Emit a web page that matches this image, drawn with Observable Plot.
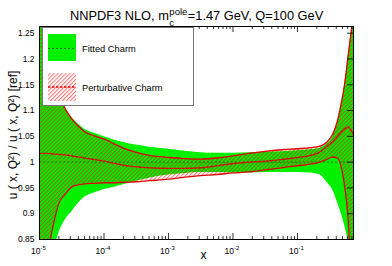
<!DOCTYPE html>
<html>
<head>
<meta charset="utf-8">
<script src="https://cdn.jsdelivr.net/npm/d3@7"></script>
<script src="https://cdn.jsdelivr.net/npm/@observablehq/plot@0.6"></script>
<style>
  html, body { margin: 0; padding: 0; background: #fff; }
  #chart { position: relative; width: 392px; height: 266px; }
</style>
</head>
<body>
<div id="chart"></div>
<script>
// ---- data ----
const logX = [-5.0, -4.9, -4.8, -4.7, -4.6, -4.5, -4.4, -4.3, -4.15, -4.0, -3.85, -3.7, -3.5, -3.3, -3.0, -2.75, -2.5, -2.25, -2.0, -1.75, -1.5, -1.25, -1.0, -0.8, -0.65, -0.55, -0.45, -0.38, -0.32, -0.27, -0.22, -0.18, -0.15, -0.124];
const fittedUpper = [1.45, 1.23, 1.18, 1.138, 1.106, 1.087, 1.074, 1.064, 1.056, 1.049, 1.043, 1.038, 1.033, 1.029, 1.025, 1.021, 1.018, 1.017, 1.017, 1.018, 1.019, 1.020, 1.022, 1.024, 1.027, 1.034, 1.050, 1.075, 1.110, 1.145, 1.195, 1.235, 1.265, 1.30];
const fittedLower = [0.60, 0.72, 0.81, 0.862, 0.888, 0.904, 0.920, 0.932, 0.940, 0.947, 0.951, 0.956, 0.963, 0.969, 0.975, 0.978, 0.980, 0.980, 0.979, 0.979, 0.980, 0.980, 0.980, 0.979, 0.975, 0.962, 0.945, 0.922, 0.900, 0.878, 0.850, 0.810, 0.770, 0.700];
const pertUpper = [1.32, 1.215, 1.170, 1.132, 1.103, 1.084, 1.070, 1.059, 1.051, 1.045, 1.036, 1.027, 1.019, 1.013, 1.009, 1.007, 1.006, 1.008, 1.012, 1.017, 1.021, 1.024, 1.026, 1.028, 1.031, 1.038, 1.055, 1.080, 1.115, 1.150, 1.200, 1.240, 1.270, 1.30];
const pertCentral = [1.017, 1.017, 1.016, 1.015, 1.014, 1.012, 1.010, 1.008, 1.005, 1.002, 0.998, 0.994, 0.991, 0.989, 0.988, 0.988, 0.989, 0.993, 0.997, 1.000, 1.002, 1.005, 1.009, 1.013, 1.020, 1.030, 1.040, 1.050, 1.058, 1.064, 1.068, 1.064, 1.058, 1.052];
const pertLower = [0.70, 0.80, 0.87, 0.920, 0.938, 0.952, 0.956, 0.958, 0.959, 0.960, 0.960, 0.961, 0.962, 0.964, 0.967, 0.971, 0.974, 0.976, 0.979, 0.981, 0.985, 0.989, 0.993, 0.996, 1.000, 1.005, 1.010, 1.008, 0.990, 0.955, 0.900, 0.820, 0.780, 0.720];
const refRatio = [1];

const xDecades = [1e-5, 1e-4, 1e-3, 1e-2, 1e-1];
const xDecadeExponents = ["-5", "-4", "-3", "-2", "-1"];
const xMinor = [2e-5,3e-5,4e-5,5e-5,6e-5,7e-5,8e-5,9e-5, 2e-4,3e-4,4e-4,5e-4,6e-4,7e-4,8e-4,9e-4, 2e-3,3e-3,4e-3,5e-3,6e-3,7e-3,8e-3,9e-3, 2e-2,3e-2,4e-2,5e-2,6e-2,7e-2,8e-2,9e-2, 0.2,0.3,0.4,0.5,0.6,0.7];
const yTicks = [0.85, 0.9, 0.95, 1.0, 1.05, 1.1, 1.15, 1.2, 1.25];
const yTickLabels = ["0.85", "0.9", "0.95", "1", "1.05", "1.1", "1.15", "1.2", "1.25"];

const titleMain = "NNPDF3 NLO, m";
const titleSup = "pole";
const titleSub = "c";
const titleRest = "=1.47 GeV, Q=100 GeV";
const yLabel = "u ( x, Q\u00B2) / u ( x, Q\u00B2) [ref]";
const xLabel = "x";
const legendLabels = ["Fitted Charm", "Perturbative Charm"];

const rows = logX.map((e, i) => ({
  x: Math.pow(10, e),
  gu: fittedUpper[i], gl: fittedLower[i],
  pu: pertUpper[i], pc: pertCentral[i], pl: pertLower[i]
}));

// ---- layout ----
const W = 392, H = 266;
const mL = 39, mR = 39, mT = 26, mB = 27;
const fW = W - mL - mR, fH = H - mT - mB;
const RED = "#e00000";
const GREEN = "#00f000";
const FONT = "Liberation Sans, Arial, Helvetica, sans-serif";

const hatchDefs = () => {
  const defs = d3.create("svg:defs");
  const p = defs.append("pattern")
    .attr("id", "hatch")
    .attr("patternUnits", "userSpaceOnUse")
    .attr("width", 2.8).attr("height", 2.8)
    .attr("patternTransform", "rotate(45)");
  p.append("line")
    .attr("x1", 0.6).attr("y1", -1).attr("x2", 0.6).attr("y2", 3.8)
    .attr("stroke", "#ff0000").attr("stroke-width", 0.55);
  return defs.node();
};

const chart = Plot.plot({
  width: W, height: H,
  marginLeft: mL, marginRight: mR, marginTop: mT, marginBottom: mB,
  style: { fontFamily: FONT, background: "#fff", color: "#000", overflow: "visible" },
  x: { type: "log", domain: [1e-5, 0.74], axis: null },
  y: { domain: [0.85, 1.263], axis: null },
  marks: [
    hatchDefs,
    Plot.areaY(rows, { x: "x", y1: "gl", y2: "gu", fill: GREEN, curve: "monotone-x", clip: true }),
    Plot.areaY(rows, { x: "x", y1: "pl", y2: "pu", fill: "url(#hatch)", curve: "monotone-x", clip: true }),
    Plot.ruleY(refRatio, { stroke: "#2c5a1c", strokeWidth: 0.8, strokeDasharray: "2,2" }),
    Plot.lineY(rows, { x: "x", y: "pu", stroke: RED, strokeWidth: 1.3, curve: "monotone-x", clip: true }),
    Plot.lineY(rows, { x: "x", y: "pl", stroke: RED, strokeWidth: 1.3, curve: "monotone-x", clip: true }),
    Plot.lineY(rows, { x: "x", y: "pc", stroke: RED, strokeWidth: 1.4, strokeDasharray: "2.5,1.5", curve: "monotone-x", clip: true }),
    // ticks: bottom & top (inside)
    Plot.ruleX(xDecades, { stroke: "#000", strokeWidth: 0.8, insetTop: fH - 6 }),
    Plot.ruleX(xMinor, { stroke: "#000", strokeWidth: 0.8, insetTop: fH - 3 }),
    Plot.ruleX(xDecades, { stroke: "#000", strokeWidth: 0.8, insetBottom: fH - 6 }),
    Plot.ruleX(xMinor, { stroke: "#000", strokeWidth: 0.8, insetBottom: fH - 3 }),
    // right ticks
    Plot.ruleY(yTicks, { stroke: "#000", strokeWidth: 0.8, insetLeft: fW - 6 }),
    Plot.frame({ stroke: "#000", strokeWidth: 1 }),
    // tick labels
    Plot.text(xDecades, { x: d => d, text: () => "10", frameAnchor: "bottom", textAnchor: "end", dx: 1, dy: 14, fontSize: 8.5, fill: "#000" }),
    Plot.text(xDecades, { x: d => d, text: (d, i) => xDecadeExponents[i], frameAnchor: "bottom", textAnchor: "start", dx: 1, dy: 10, fontSize: 6, fill: "#000" }),
    Plot.text(yTicks, { y: d => d, text: (d, i) => yTickLabels[i], frameAnchor: "left", textAnchor: "end", dx: -5, fontSize: 8.5, fill: "#000" }),
    // x axis title
    Plot.text([xLabel], { text: d => d, frameAnchor: "bottom", dx: 7, dy: 19, fontSize: 12, fill: "#000" })
  ]
});

document.getElementById("chart").appendChild(chart);

const svg = d3.select(chart);

// ---- y axis title ----
svg.append("text")
  .attr("transform", "translate(13,135) rotate(-90)")
  .attr("text-anchor", "middle")
  .attr("dy", "0.35em")
  .attr("font-family", FONT)
  .attr("font-size", 12)
  .attr("fill", "#000")
  .text(yLabel);

// ---- title with super/subscript ----
const tg = svg.append("g").attr("font-family", FONT).attr("fill", "#000").attr("text-anchor", "start");
const t1 = tg.append("text").attr("x", 70).attr("y", 20).attr("font-size", 12.8).text(titleMain);
const w1 = t1.node().getComputedTextLength();
const tSup = tg.append("text").attr("x", 70 + w1 + 0.5).attr("y", 15).attr("font-size", 9.5).text(titleSup);
tg.append("text").attr("x", 70 + w1 + 0.5).attr("y", 26).attr("font-size", 9.5).text(titleSub);
const wSup = tSup.node().getComputedTextLength();
tg.append("text").attr("x", 70 + w1 + 0.5 + wSup + 0.5).attr("y", 20).attr("font-size", 12.8).text(titleRest);

// ---- legend ----
const lg = svg.append("g").attr("font-family", FONT).attr("text-anchor", "start");
lg.append("rect").attr("x", mL + 3.5).attr("y", mT + 1.5).attr("width", 151).attr("height", 78)
  .attr("fill", "#fff").attr("stroke", "#777").attr("stroke-width", 1);
lg.append("rect").attr("x", 48).attr("y", 34).attr("width", 28).attr("height", 27).attr("fill", GREEN);
lg.append("line").attr("x1", 48).attr("x2", 76).attr("y1", 48.5).attr("y2", 48.5)
  .attr("stroke", "#2c5a1c").attr("stroke-width", 0.8).attr("stroke-dasharray", "2,2");
lg.append("rect").attr("x", 48).attr("y", 73).attr("width", 28).attr("height", 28).attr("fill", "url(#hatch)");
lg.append("line").attr("x1", 48).attr("x2", 76).attr("y1", 87).attr("y2", 87)
  .attr("stroke", RED).attr("stroke-width", 1.4).attr("stroke-dasharray", "2.5,1.5");
lg.append("text").attr("x", 82).attr("y", 49).attr("dy", "0.35em").attr("font-size", 9.3).attr("fill", "#000").text(legendLabels[0]);
lg.append("text").attr("x", 82).attr("y", 88).attr("dy", "0.35em").attr("font-size", 9.3).attr("fill", "#000").text(legendLabels[1]);
</script>
</body>
</html>
